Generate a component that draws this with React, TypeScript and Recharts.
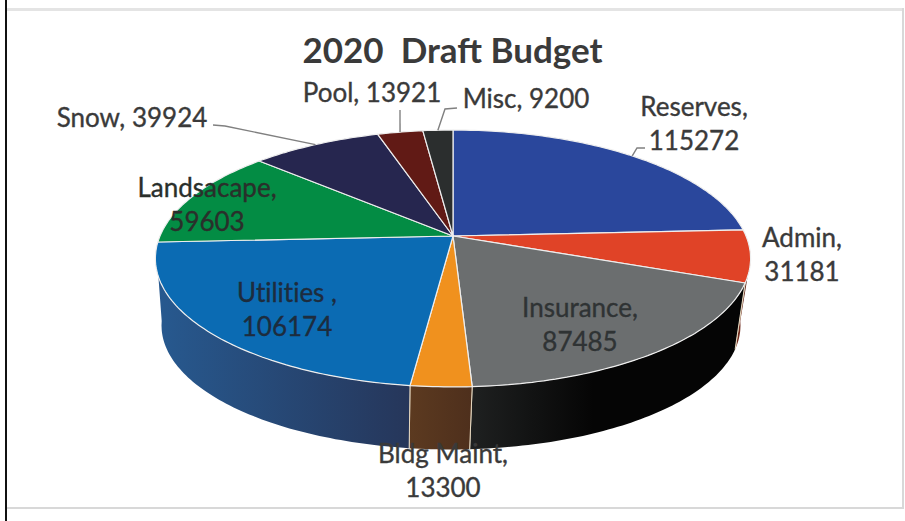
import { PieChart, Pie, Cell } from 'recharts';

const names = ['Reserves', 'Admin', 'Insurance', 'Bldg Maint', 'Utilities ', 'Landsacape', 'Snow', 'Pool', 'Misc'];
const values = [115272, 31181, 87485, 13300, 106174, 59603, 39924, 13921, 9200];
const topColors = ['#2a479c', '#e04327', '#6b6e6f', '#f0911e', '#0b6bb3', '#038c44', '#26264f', '#611a15', '#2b2e2e'];
const wallFrom = ['#1a2a5c', '#7a3020', '#1f2121', '#5c3a20', '#27598f', '#025028', '#16162e', '#3a100c', '#1a1c1c'];
const wallTo = ['#1a2a5c', '#5a2015', '#050505', '#4e2f1c', '#26365a', '#025028', '#16162e', '#3a100c', '#1a1c1c'];

const data = names.map((name, i) => ({ name, value: values[i] }));

const WIDTH = 905;
const HEIGHT = 521;
const CX = 453;
const CY = 236;
const RADIUS = 293;

// Tilted disc: perspective foreshortening for the top face and the lower rim
const TILT = 0.175;
const TOP_SQUASH = 124.5 / 293;
const RIM_RADIUS = 285;
const RIM_CX = 451;
const RIM_CY = 304;
const RIM_SQUASH = 120 / 285;

// Side wall only shows between these angles (clockwise from 12 o'clock);
// the lower rim wraps a little further round so the ends of the wall curve in
const WALL_START = 108;
const WALL_END = 252;
const RIM_START = 98;
const RIM_END = 262;

const FONT = 'Lato, "Open Sans", sans-serif';
const TEXT_COLOR = '#3a3a3a';

type LabelSpot = { x: number; y: number; oneLine?: boolean; leader?: [number, number][]; color?: string };

const labelSpots: Record<string, LabelSpot> = {
  Reserves: { x: 694, y: 116, leader: [[645, 148], [637, 148]] },
  Admin: { x: 802, y: 247 },
  Insurance: { x: 580, y: 317, color: '#2f3334' },
  'Bldg Maint': { x: 443, y: 463 },
  'Utilities ': { x: 287, y: 302, color: '#1d2c3e' },
  Landsacape: { x: 207, y: 197, color: '#2a2f2b' },
  Snow: { x: 132, y: 127, oneLine: true, leader: [[213, 125], [225, 126]] },
  Pool: { x: 372, y: 102, oneLine: true, leader: [[400, 110]] },
  Misc: { x: 526, y: 108, oneLine: true, leader: [[457, 108], [445, 109]] },
};

const rad = (deg: number) => (deg * Math.PI) / 180;

const topPoint = (deg: number) => {
  const depth = Math.cos(rad(deg));
  const w = 1 + TILT * depth;
  return [CX + (RADIUS * Math.sin(rad(deg))) / w, CY - (RADIUS * TOP_SQUASH * depth) / w];
};

const rimPoint = (deg: number) => {
  const depth = Math.cos(rad(deg));
  const w = 1 + TILT * depth;
  return [RIM_CX + (RIM_RADIUS * Math.sin(rad(deg))) / w, RIM_CY - (RIM_RADIUS * RIM_SQUASH * depth) / w];
};

const arc = (from: number, to: number, at: (deg: number) => number[]) => {
  const steps = Math.max(2, Math.ceil(Math.abs(to - from)));
  const pts: string[] = [];
  for (let i = 0; i <= steps; i++) {
    const p = at(from + ((to - from) * i) / steps);
    pts.push(`${p[0].toFixed(1)} ${p[1].toFixed(1)}`);
  }
  return pts;
};

const TopSlice = (props: any) => {
  const a = 90 - props.startAngle;
  const b = 90 - props.endAngle;
  const d = `M${CX} ${CY} L${arc(a, b, topPoint).join(' L')} Z`;
  return <path d={d} fill={props.fill} stroke="#eeeeee" strokeWidth={1.2} strokeLinejoin="round" />;
};

const WallSlice = (props: any) => {
  const a = Math.max(90 - props.startAngle, WALL_START);
  const b = Math.min(90 - props.endAngle, WALL_END);
  if (a >= b) return null;
  const upper = arc(a, b, topPoint);
  const rimA = a === WALL_START ? RIM_START : a;
  const rimB = b === WALL_END ? RIM_END : b;
  const lower = arc(rimB, rimA, rimPoint);
  const d = `M${upper.join(' L')} L${lower.join(' L')} Z`;
  const seams = [a, b].filter((t) => t > WALL_START && t < WALL_END);
  return (
    <g>
      <path d={d} fill={props.fill} />
      {seams.map((t) => {
        const p = topPoint(t);
        const q = rimPoint(t);
        return <line key={t} x1={p[0]} y1={p[1]} x2={q[0]} y2={q[1]} stroke="#e6d8c0" strokeWidth={1} />;
      })}
    </g>
  );
};

const SliceLabel = (props: any) => {
  const spot = labelSpots[props.name];
  if (!spot) return null;
  const color = spot.color ?? TEXT_COLOR;
  const style = {
    fontFamily: FONT,
    fontSize: 26,
    fill: color,
    stroke: color,
    strokeWidth: 0.35,
    fontVariantLigatures: 'none',
  };
  const head = `${props.name},`;
  const tail = String(props.value);
  const end = spot.leader ? topPoint(90 - props.midAngle) : null;
  return (
    <g>
      {spot.leader && end && (
        <polyline
          points={[...spot.leader, end].map((p) => p.join(',')).join(' ')}
          fill="none"
          stroke="#808080"
          strokeWidth={1.4}
        />
      )}
      {spot.oneLine ? (
        <text x={spot.x} y={spot.y} textAnchor="middle" style={style}>
          {`${head} ${tail}`}
        </text>
      ) : (
        <text textAnchor="middle" style={style}>
          <tspan x={spot.x} y={spot.y}>{head}</tspan>
          <tspan x={spot.x} y={spot.y + 33.5}>{tail}</tspan>
        </text>
      )}
    </g>
  );
};

export default function App() {
  return (
    <div style={{ position: 'absolute', left: 0, top: 0, width: WIDTH, height: HEIGHT, background: '#fff', overflow: 'hidden' }}>
      {/* outer frame */}
      <div style={{ position: 'absolute', left: 7, top: 8, width: 897, height: 2.5, background: '#e4e4e4' }} />
      <div style={{ position: 'absolute', left: 7, top: 507, width: 897, height: 2, background: '#d8d8d8' }} />
      <div style={{ position: 'absolute', left: 902, top: 8, width: 2, height: 501, background: '#d8d8d8' }} />
      <div style={{ position: 'absolute', left: 5, top: 0, width: 2, height: HEIGHT, background: '#111' }} />

      <div style={{
        position: 'absolute', left: 0, width: WIDTH, top: 29, textAlign: 'center',
        fontFamily: FONT, fontWeight: 700, fontSize: 35, lineHeight: '40px', color: '#3a3a3a', whiteSpace: 'pre',
      }}>
        2020  Draft Budget
      </div>

      <div style={{ position: 'absolute', left: 0, top: 0 }}>
        <PieChart width={WIDTH} height={HEIGHT} margin={{ top: 0, right: 0, bottom: 0, left: 0 }}>
          <defs>
            {names.map((_n, i) => (
              <linearGradient key={i} id={`wall-${i}`} x1="0" y1="0" x2="1" y2="0">
                <stop offset="0%" stopColor={wallFrom[i]} />
                <stop offset={i === 2 ? '45%' : '100%'} stopColor={wallTo[i]} />
              </linearGradient>
            ))}
          </defs>
          <Pie
            data={data}
            dataKey="value"
            nameKey="name"
            cx={CX}
            cy={CY}
            outerRadius={RADIUS}
            startAngle={90}
            endAngle={-270}
            stroke="none"
            shape={WallSlice}
            isAnimationActive={false}
          >
            {data.map((_d, i) => (
              <Cell key={i} fill={`url(#wall-${i})`} />
            ))}
          </Pie>
          <Pie
            data={data}
            dataKey="value"
            nameKey="name"
            cx={CX}
            cy={CY}
            outerRadius={RADIUS}
            startAngle={90}
            endAngle={-270}
            shape={TopSlice}
            label={SliceLabel}
            labelLine={false}
            isAnimationActive={false}
          >
            {data.map((_d, i) => (
              <Cell key={i} fill={topColors[i]} />
            ))}
          </Pie>
        </PieChart>
      </div>
    </div>
  );
}
